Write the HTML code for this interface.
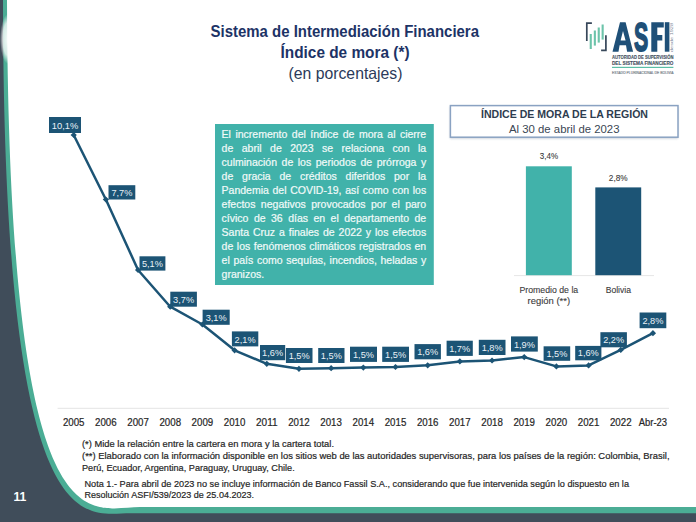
<!DOCTYPE html>
<html><head><meta charset="utf-8">
<style>
html,body{margin:0;padding:0;width:696px;height:522px;overflow:hidden;background:#fff}
svg{position:absolute;left:0;top:0}
svg text{font-family:"Liberation Sans",sans-serif}
.tl{position:absolute;left:221.6px;width:204.6px;font-family:"Liberation Sans",sans-serif;font-size:10.5px;line-height:13px;height:13px;color:#f2faf9;-webkit-text-stroke:0.2px #f2faf9;text-align:justify;text-align-last:justify;white-space:nowrap;overflow:visible}
.tl.last{text-align-last:left}
</style></head><body>
<svg width="696" height="522" viewBox="0 0 696 522">
<rect x="0" y="0" width="696" height="522" fill="#404d5a"/>
<path d="M3,-1 C3.27,553 85.9,513.2 130.3,513.2 L720,513.2 L720,-20 L3,-20 Z" fill="#4bad95"/>
<path d="M7,-1 C8.95,559.6 89.9,507.1 139.9,507.1 L720,507.1 L720,-20 L7,-20 Z" fill="#ffffff"/>
<defs><radialGradient id="glow" cx="0.5" cy="0.5" r="0.5"><stop offset="0" stop-color="#ffffff" stop-opacity="0.95"/><stop offset="0.65" stop-color="#ffffff" stop-opacity="0.75"/><stop offset="1" stop-color="#ffffff" stop-opacity="0"/></radialGradient></defs>
<ellipse cx="8" cy="39" rx="8" ry="25" fill="url(#glow)"/>
<line x1="57.6" y1="408.4" x2="669" y2="408.4" stroke="#e9e9e9" stroke-width="1.3"/>
<text x="73.70" y="425.5" text-anchor="middle" font-size="10.3" fill="#262626" stroke="#262626" stroke-width="0.2" textLength="21.6" lengthAdjust="spacingAndGlyphs">2005</text>
<text x="105.88" y="425.5" text-anchor="middle" font-size="10.3" fill="#262626" stroke="#262626" stroke-width="0.2" textLength="21.6" lengthAdjust="spacingAndGlyphs">2006</text>
<text x="138.06" y="425.5" text-anchor="middle" font-size="10.3" fill="#262626" stroke="#262626" stroke-width="0.2" textLength="21.6" lengthAdjust="spacingAndGlyphs">2007</text>
<text x="170.24" y="425.5" text-anchor="middle" font-size="10.3" fill="#262626" stroke="#262626" stroke-width="0.2" textLength="21.6" lengthAdjust="spacingAndGlyphs">2008</text>
<text x="202.42" y="425.5" text-anchor="middle" font-size="10.3" fill="#262626" stroke="#262626" stroke-width="0.2" textLength="21.6" lengthAdjust="spacingAndGlyphs">2009</text>
<text x="234.60" y="425.5" text-anchor="middle" font-size="10.3" fill="#262626" stroke="#262626" stroke-width="0.2" textLength="21.6" lengthAdjust="spacingAndGlyphs">2010</text>
<text x="266.78" y="425.5" text-anchor="middle" font-size="10.3" fill="#262626" stroke="#262626" stroke-width="0.2" textLength="21.6" lengthAdjust="spacingAndGlyphs">2011</text>
<text x="298.96" y="425.5" text-anchor="middle" font-size="10.3" fill="#262626" stroke="#262626" stroke-width="0.2" textLength="21.6" lengthAdjust="spacingAndGlyphs">2012</text>
<text x="331.14" y="425.5" text-anchor="middle" font-size="10.3" fill="#262626" stroke="#262626" stroke-width="0.2" textLength="21.6" lengthAdjust="spacingAndGlyphs">2013</text>
<text x="363.32" y="425.5" text-anchor="middle" font-size="10.3" fill="#262626" stroke="#262626" stroke-width="0.2" textLength="21.6" lengthAdjust="spacingAndGlyphs">2014</text>
<text x="395.50" y="425.5" text-anchor="middle" font-size="10.3" fill="#262626" stroke="#262626" stroke-width="0.2" textLength="21.6" lengthAdjust="spacingAndGlyphs">2015</text>
<text x="427.68" y="425.5" text-anchor="middle" font-size="10.3" fill="#262626" stroke="#262626" stroke-width="0.2" textLength="21.6" lengthAdjust="spacingAndGlyphs">2016</text>
<text x="459.86" y="425.5" text-anchor="middle" font-size="10.3" fill="#262626" stroke="#262626" stroke-width="0.2" textLength="21.6" lengthAdjust="spacingAndGlyphs">2017</text>
<text x="492.04" y="425.5" text-anchor="middle" font-size="10.3" fill="#262626" stroke="#262626" stroke-width="0.2" textLength="21.6" lengthAdjust="spacingAndGlyphs">2018</text>
<text x="524.22" y="425.5" text-anchor="middle" font-size="10.3" fill="#262626" stroke="#262626" stroke-width="0.2" textLength="21.6" lengthAdjust="spacingAndGlyphs">2019</text>
<text x="556.40" y="425.5" text-anchor="middle" font-size="10.3" fill="#262626" stroke="#262626" stroke-width="0.2" textLength="21.6" lengthAdjust="spacingAndGlyphs">2020</text>
<text x="588.58" y="425.5" text-anchor="middle" font-size="10.3" fill="#262626" stroke="#262626" stroke-width="0.2" textLength="21.6" lengthAdjust="spacingAndGlyphs">2021</text>
<text x="620.76" y="425.5" text-anchor="middle" font-size="10.3" fill="#262626" stroke="#262626" stroke-width="0.2" textLength="21.6" lengthAdjust="spacingAndGlyphs">2022</text>
<text x="652.94" y="425.5" text-anchor="middle" font-size="10.3" fill="#262626" stroke="#262626" stroke-width="0.2" textLength="28.3" lengthAdjust="spacingAndGlyphs">Abr-23</text>
<path d="M73.70,135.00 L105.88,199.50 L138.06,270.00 L170.24,306.70 L202.42,324.50 L234.60,350.30 L266.78,363.80 L298.96,368.80 L331.14,368.20 L363.32,367.60 L395.50,367.00 L427.68,365.30 L459.86,361.40 L492.04,360.50 L524.22,357.10 L556.40,366.40 L588.58,365.40 L620.76,349.90 L652.94,333.20" fill="none" stroke="#1c5475" stroke-width="2.5" stroke-linejoin="round"/>
<rect x="71.50" y="132.80" width="4.4" height="4.4" fill="#1c5475" transform="rotate(45 73.70 135.00)"/>
<rect x="103.68" y="197.30" width="4.4" height="4.4" fill="#1c5475" transform="rotate(45 105.88 199.50)"/>
<rect x="135.86" y="267.80" width="4.4" height="4.4" fill="#1c5475" transform="rotate(45 138.06 270.00)"/>
<rect x="168.04" y="304.50" width="4.4" height="4.4" fill="#1c5475" transform="rotate(45 170.24 306.70)"/>
<rect x="200.22" y="322.30" width="4.4" height="4.4" fill="#1c5475" transform="rotate(45 202.42 324.50)"/>
<rect x="232.40" y="348.10" width="4.4" height="4.4" fill="#1c5475" transform="rotate(45 234.60 350.30)"/>
<rect x="264.58" y="361.60" width="4.4" height="4.4" fill="#1c5475" transform="rotate(45 266.78 363.80)"/>
<rect x="296.76" y="366.60" width="4.4" height="4.4" fill="#1c5475" transform="rotate(45 298.96 368.80)"/>
<rect x="328.94" y="366.00" width="4.4" height="4.4" fill="#1c5475" transform="rotate(45 331.14 368.20)"/>
<rect x="361.12" y="365.40" width="4.4" height="4.4" fill="#1c5475" transform="rotate(45 363.32 367.60)"/>
<rect x="393.30" y="364.80" width="4.4" height="4.4" fill="#1c5475" transform="rotate(45 395.50 367.00)"/>
<rect x="425.48" y="363.10" width="4.4" height="4.4" fill="#1c5475" transform="rotate(45 427.68 365.30)"/>
<rect x="457.66" y="359.20" width="4.4" height="4.4" fill="#1c5475" transform="rotate(45 459.86 361.40)"/>
<rect x="489.84" y="358.30" width="4.4" height="4.4" fill="#1c5475" transform="rotate(45 492.04 360.50)"/>
<rect x="522.02" y="354.90" width="4.4" height="4.4" fill="#1c5475" transform="rotate(45 524.22 357.10)"/>
<rect x="554.20" y="364.20" width="4.4" height="4.4" fill="#1c5475" transform="rotate(45 556.40 366.40)"/>
<rect x="586.38" y="363.20" width="4.4" height="4.4" fill="#1c5475" transform="rotate(45 588.58 365.40)"/>
<rect x="618.56" y="347.70" width="4.4" height="4.4" fill="#1c5475" transform="rotate(45 620.76 349.90)"/>
<rect x="650.74" y="331.00" width="4.4" height="4.4" fill="#1c5475" transform="rotate(45 652.94 333.20)"/>
<rect x="49.00" y="117.00" width="32.00" height="16.00" fill="#1c5475"/>
<text x="65.00" y="129.10" text-anchor="middle" font-size="9.9" fill="#e9f1f7" textLength="26.5" lengthAdjust="spacingAndGlyphs">10,1%</text>
<rect x="108.50" y="185.20" width="26.80" height="14.30" fill="#1c5475"/>
<text x="121.90" y="195.60" text-anchor="middle" font-size="9.9" fill="#e9f1f7" textLength="21" lengthAdjust="spacingAndGlyphs">7,7%</text>
<rect x="139.50" y="256.30" width="25.90" height="14.30" fill="#1c5475"/>
<text x="152.45" y="266.70" text-anchor="middle" font-size="9.9" fill="#e9f1f7" textLength="21" lengthAdjust="spacingAndGlyphs">5,1%</text>
<rect x="170.30" y="291.70" width="26.60" height="15.00" fill="#1c5475"/>
<text x="183.60" y="302.80" text-anchor="middle" font-size="9.9" fill="#e9f1f7" textLength="21" lengthAdjust="spacingAndGlyphs">3,7%</text>
<rect x="202.60" y="309.70" width="27.10" height="15.10" fill="#1c5475"/>
<text x="216.15" y="320.90" text-anchor="middle" font-size="9.9" fill="#e9f1f7" textLength="21" lengthAdjust="spacingAndGlyphs">3,1%</text>
<rect x="231.90" y="331.40" width="26.40" height="15.00" fill="#1c5475"/>
<text x="245.10" y="342.50" text-anchor="middle" font-size="9.9" fill="#e9f1f7" textLength="21" lengthAdjust="spacingAndGlyphs">2,1%</text>
<rect x="260.00" y="345.00" width="25.20" height="15.20" fill="#1c5475"/>
<text x="272.60" y="356.30" text-anchor="middle" font-size="9.9" fill="#e9f1f7" textLength="21" lengthAdjust="spacingAndGlyphs">1,6%</text>
<rect x="285.90" y="348.00" width="26.60" height="15.00" fill="#1c5475"/>
<text x="299.20" y="359.10" text-anchor="middle" font-size="9.9" fill="#e9f1f7" textLength="21" lengthAdjust="spacingAndGlyphs">1,5%</text>
<rect x="318.20" y="348.00" width="26.30" height="15.00" fill="#1c5475"/>
<text x="331.35" y="359.10" text-anchor="middle" font-size="9.9" fill="#e9f1f7" textLength="21" lengthAdjust="spacingAndGlyphs">1,5%</text>
<rect x="350.00" y="346.70" width="27.00" height="15.20" fill="#1c5475"/>
<text x="363.50" y="358.00" text-anchor="middle" font-size="9.9" fill="#e9f1f7" textLength="21" lengthAdjust="spacingAndGlyphs">1,5%</text>
<rect x="382.20" y="346.70" width="26.80" height="15.20" fill="#1c5475"/>
<text x="395.60" y="358.00" text-anchor="middle" font-size="9.9" fill="#e9f1f7" textLength="21" lengthAdjust="spacingAndGlyphs">1,5%</text>
<rect x="414.50" y="344.10" width="26.40" height="15.20" fill="#1c5475"/>
<text x="427.70" y="355.40" text-anchor="middle" font-size="9.9" fill="#e9f1f7" textLength="21" lengthAdjust="spacingAndGlyphs">1,6%</text>
<rect x="446.60" y="340.70" width="26.20" height="15.20" fill="#1c5475"/>
<text x="459.70" y="352.00" text-anchor="middle" font-size="9.9" fill="#e9f1f7" textLength="21" lengthAdjust="spacingAndGlyphs">1,7%</text>
<rect x="478.80" y="339.80" width="26.70" height="15.20" fill="#1c5475"/>
<text x="492.15" y="351.10" text-anchor="middle" font-size="9.9" fill="#e9f1f7" textLength="21" lengthAdjust="spacingAndGlyphs">1,8%</text>
<rect x="511.00" y="336.40" width="26.80" height="15.20" fill="#1c5475"/>
<text x="524.40" y="347.70" text-anchor="middle" font-size="9.9" fill="#e9f1f7" textLength="21" lengthAdjust="spacingAndGlyphs">1,9%</text>
<rect x="543.60" y="346.30" width="26.60" height="14.50" fill="#1c5475"/>
<text x="556.90" y="356.90" text-anchor="middle" font-size="9.9" fill="#e9f1f7" textLength="21" lengthAdjust="spacingAndGlyphs">1,5%</text>
<rect x="575.20" y="345.90" width="26.20" height="14.40" fill="#1c5475"/>
<text x="588.30" y="356.40" text-anchor="middle" font-size="9.9" fill="#e9f1f7" textLength="21" lengthAdjust="spacingAndGlyphs">1,6%</text>
<rect x="600.40" y="332.20" width="26.50" height="15.10" fill="#1c5475"/>
<text x="613.65" y="343.40" text-anchor="middle" font-size="9.9" fill="#e9f1f7" textLength="21" lengthAdjust="spacingAndGlyphs">2,2%</text>
<rect x="639.60" y="312.50" width="26.70" height="15.70" fill="#1c5475"/>
<text x="652.95" y="324.30" text-anchor="middle" font-size="9.9" fill="#e9f1f7" textLength="21" lengthAdjust="spacingAndGlyphs">2,8%</text>
<line x1="514" y1="275.6" x2="654" y2="275.6" stroke="#e6e6e6" stroke-width="1"/>
<rect x="525.9" y="166.3" width="45.9" height="108.9" fill="#41b2aa"/>
<rect x="595.3" y="187.4" width="45.9" height="87.8" fill="#1c5475"/>
<text x="549" y="159.4" text-anchor="middle" font-size="8.9" fill="#3a3a3a" stroke="#3a3a3a" stroke-width="0.1" textLength="18.3" lengthAdjust="spacingAndGlyphs">3,4%</text>
<text x="618.2" y="180.5" text-anchor="middle" font-size="8.9" fill="#3a3a3a" stroke="#3a3a3a" stroke-width="0.1" textLength="18.8" lengthAdjust="spacingAndGlyphs">2,8%</text>
<text x="548.85" y="292.5" text-anchor="middle" font-size="9.1" fill="#3a3a3a" stroke="#3a3a3a" stroke-width="0.1" textLength="58.7" lengthAdjust="spacingAndGlyphs">Promedio de la</text>
<text x="548.85" y="303.6" text-anchor="middle" font-size="9.1" fill="#3a3a3a" stroke="#3a3a3a" stroke-width="0.1" textLength="42.5" lengthAdjust="spacingAndGlyphs">región (**)</text>
<text x="618.35" y="292.5" text-anchor="middle" font-size="9.1" fill="#3a3a3a" stroke="#3a3a3a" stroke-width="0.1" textLength="25.3" lengthAdjust="spacingAndGlyphs">Bolivia</text>
<defs><filter id="sh" x="-10%" y="-30%" width="120%" height="160%"><feGaussianBlur stdDeviation="1.3"/></filter></defs>
<rect x="450" y="106.5" width="228" height="32" fill="#a9b4c2" opacity="0.7" filter="url(#sh)"/>
<rect x="450.4" y="105.6" width="227.6" height="31.6" fill="#ffffff" stroke="#8aa2c2" stroke-width="1.5"/>
<text x="481" y="117.9" font-size="10.6" font-weight="bold" fill="#2e3d4f" textLength="167" lengthAdjust="spacingAndGlyphs">ÍNDICE DE MORA DE LA REGIÓN</text>
<text x="509" y="132.9" font-size="11.3" fill="#3a4654" textLength="110.5" lengthAdjust="spacingAndGlyphs">Al 30 de abril de 2023</text>
<rect x="215" y="124" width="218.8" height="161" fill="#41b2aa"/>
<text x="210.5" y="37.2" font-size="16" font-weight="bold" fill="#1d3366" textLength="268.5" lengthAdjust="spacingAndGlyphs">Sistema de Intermediación Financiera</text>
<text x="280.5" y="57.5" font-size="16" font-weight="bold" fill="#1d3366" textLength="129" lengthAdjust="spacingAndGlyphs">Índice de mora (*)</text>
<text x="288.5" y="79" font-size="16.5" fill="#2b3a5a" textLength="114" lengthAdjust="spacingAndGlyphs">(en porcentajes)</text>
<text x="82" y="446.6" font-size="9.3" fill="#262626" stroke="#262626" stroke-width="0.2" textLength="252" lengthAdjust="spacingAndGlyphs">(*) Mide la relación entre la cartera en mora y la cartera total.</text>
<text x="82" y="458.7" font-size="9.3" fill="#262626" stroke="#262626" stroke-width="0.2" textLength="587.5" lengthAdjust="spacingAndGlyphs">(**) Elaborado con la información disponible en los sitios web de las autoridades supervisoras, para los países de la región: Colombia, Brasil,</text>
<text x="82" y="470.7" font-size="9.3" fill="#262626" stroke="#262626" stroke-width="0.2" textLength="212.7" lengthAdjust="spacingAndGlyphs">Perú, Ecuador, Argentina, Paraguay, Uruguay, Chile.</text>
<text x="84.5" y="487.3" font-size="9.3" fill="#262626" stroke="#262626" stroke-width="0.2" textLength="544.5" lengthAdjust="spacingAndGlyphs">Nota 1.- Para abril de 2023 no se incluye información de Banco Fassil S.A., considerando que fue intervenida según lo dispuesto en la</text>
<text x="84.5" y="497.9" font-size="9.3" fill="#262626" stroke="#262626" stroke-width="0.2" textLength="169.5" lengthAdjust="spacingAndGlyphs">Resolución ASFI/539/2023 de 25.04.2023.</text>
<text x="13.5" y="500.9" font-size="12" font-weight="bold" fill="#ffffff" textLength="12.9" lengthAdjust="spacingAndGlyphs">11</text>
<path d="M591.9,23.1 H586.8 V40.9" fill="none" stroke="#37475a" stroke-width="1.7"/>
<path d="M601.1,50.4 H605.9 V35.3" fill="none" stroke="#37475a" stroke-width="1.7"/>
<rect x="589.7" y="34" width="2.1" height="15" fill="#6cc4aa"/>
<rect x="593.8" y="30.5" width="2.1" height="15.100000000000001" fill="#6cc4aa"/>
<rect x="597.7" y="27.5" width="2.1" height="15.100000000000001" fill="#6cc4aa"/>
<rect x="601.6" y="24.5" width="2.1" height="15.100000000000001" fill="#6cc4aa"/>
<path fill-rule="evenodd" fill="#1f5078" d="M612.5,51.7 L620,22.2 L625.6,22.2 L633.1,51.7 L627.1,51.7 L626,45.2 L619.6,45.2 L618.5,51.7 Z M620.6,40.6 L625.6,40.6 L623,31 Z"/>
<text x="633.9" y="51.3" font-size="40" font-weight="bold" fill="#1f5078" stroke="#1f5078" stroke-width="1.8" textLength="14.2" lengthAdjust="spacingAndGlyphs">S</text>
<path fill="#1f5078" d="M651.3,22.2 H663.8 V27.6 H657.3 V35.1 H662.3 V40.6 H657.3 V51.7 H651.3 Z"/>
<rect x="664.8" y="22.2" width="4.6" height="29.5" fill="#1f5078"/>
<text transform="translate(672.6,52) rotate(-90)" x="0" y="0" font-size="3.2" fill="#7a8696" textLength="29" lengthAdjust="spacingAndGlyphs">desde 1928</text>
<text x="612" y="59.2" font-size="5" font-weight="bold" fill="#44505d" stroke="#44505d" stroke-width="0.12" textLength="61.4" lengthAdjust="spacingAndGlyphs">AUTORIDAD DE SUPERVISIÓN</text>
<text x="612" y="64.9" font-size="5" font-weight="bold" fill="#44505d" stroke="#44505d" stroke-width="0.12" textLength="61.4" lengthAdjust="spacingAndGlyphs">DEL  SISTEMA FINANCIERO</text>
<rect x="612" y="66.8" width="61.4" height="1.2" fill="#5cbfa6"/>
<text x="612" y="73.5" font-size="3.6" fill="#747c86" stroke="#747c86" stroke-width="0.15" textLength="61.4" lengthAdjust="spacingAndGlyphs">ESTADO PLURINACIONAL DE BOLIVIA</text>
</svg>
<div class="tl" style="top:128.40px">El incremento del índice de mora al cierre</div>
<div class="tl" style="top:142.38px">de abril de 2023 se relaciona con la</div>
<div class="tl" style="top:156.36px">culminación de los periodos de prórroga y</div>
<div class="tl" style="top:170.34px">de gracia de créditos diferidos por la</div>
<div class="tl" style="top:184.32px">Pandemia del COVID-19, así como con los</div>
<div class="tl" style="top:198.30px">efectos negativos provocados por el paro</div>
<div class="tl" style="top:212.28px">cívico de 36 días en el departamento de</div>
<div class="tl" style="top:226.26px">Santa Cruz a finales de 2022 y los efectos</div>
<div class="tl" style="top:240.24px">de los fenómenos climáticos registrados en</div>
<div class="tl" style="top:254.22px">el país como sequías, incendios, heladas y</div>
<div class="tl last" style="top:268.20px">granizos.</div>
</body></html>
